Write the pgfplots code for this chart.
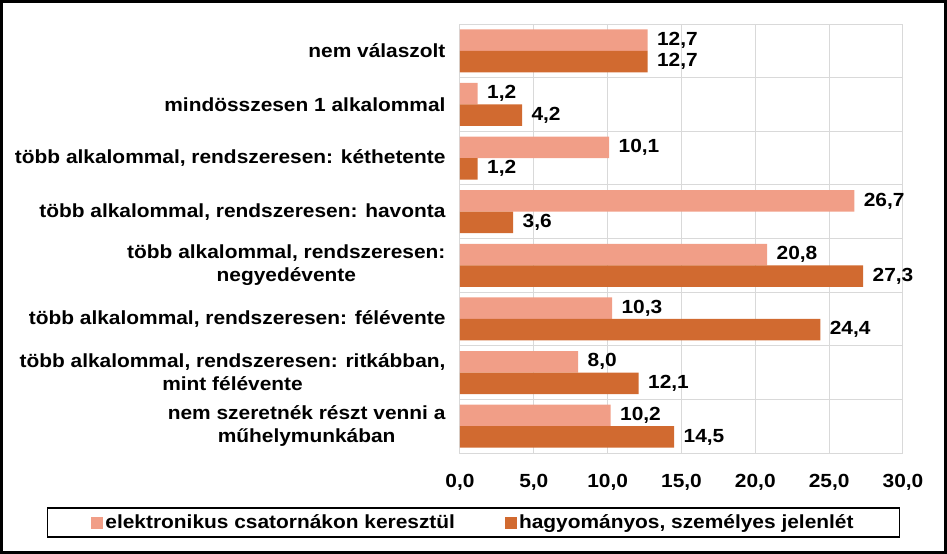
\documentclass[border=0pt]{standalone}
\usepackage{pgfplots}
\pgfplotsset{compat=1.18}
\usepackage{fontspec}
\setmainfont{Liberation Sans}[FakeStretch=1.1]
\definecolor{lightc}{HTML}{F19E87}
\definecolor{darkc}{HTML}{D16A30}
\definecolor{gridc}{HTML}{D9D9D9}
\newcommand{\chartfont}{\fontsize{19bp}{23bp}\selectfont\bfseries}
\begin{document}
\begin{tikzpicture}
\begin{axis}[
  at={(0,0)}, anchor=south west,
  scale only axis, width=443bp, height=429bp,
  xbar, bar width=21.5bp,
  xmin=0, xmax=30, ymin=-0.5, ymax=7.5, y dir=reverse,
  xtick={0,5,...,30},
  ytick={0,...,7},
  minor ytick={0.5,1.5,...,6.5},
  yticklabels={
    {nem válaszolt},
    {mindösszesen 1 alkalommal},
    {több alkalommal, rendszeresen: kéthetente},
    {több alkalommal, rendszeresen: havonta},
    {több alkalommal, rendszeresen:\\negyedévente},
    {több alkalommal, rendszeresen: félévente},
    {több alkalommal, rendszeresen: ritkábban,\\mint félévente},
    {nem szeretnék részt venni a\\műhelymunkában}},
  xmajorgrids, yminorgrids,
  grid style={gridc, line width=1bp},
  minor grid style={gridc, line width=1bp},
  axis line style={gridc, line width=1bp},
  major tick length=0pt, minor tick length=0pt,
  tick style={draw=none},
  xticklabel style={font=\chartfont, yshift=-18bp},
  yticklabel style={font=\chartfont, align=center, xshift=-11bp},
  /pgf/number format/.cd, use comma, fixed, fixed zerofill, precision=1, assume math mode=true,
  /pgfplots/.cd,
  nodes near coords,
  nodes near coords style={font=\chartfont, anchor=west, xshift=6bp, text=black},
  legend columns=2,
  legend style={at={(0.0305,-0.162)}, anchor=center, draw=black, line width=1.5bp,
    font=\chartfont, inner xsep=44bp, inner ysep=5bp,
    /tikz/every even column/.append style={column sep=48bp}},
  legend image code/.code={\fill[#1] (0bp,-6bp) rectangle (12bp,6bp);},
]
\addplot[fill=lightc, draw=none, bar shift=10.75bp] coordinates {
  (12.7,0) (1.2,1) (10.1,2) (26.7,3) (20.8,4) (10.3,5) (8.0,6) (10.2,7)};
\addlegendentry{elektronikus csatornákon keresztül}
\addplot[fill=darkc, draw=none, bar shift=-10.75bp] coordinates {
  (12.7,0) (4.2,1) (1.2,2) (3.6,3) (27.3,4) (24.4,5) (12.1,6) (14.5,7)};
\addlegendentry{hagyományos, személyes jelenlét}
\end{axis}
\draw[black, line width=3bp] (-458.5bp,-99.5bp) rectangle (485.5bp,451.5bp);
\end{tikzpicture}
\end{document}
